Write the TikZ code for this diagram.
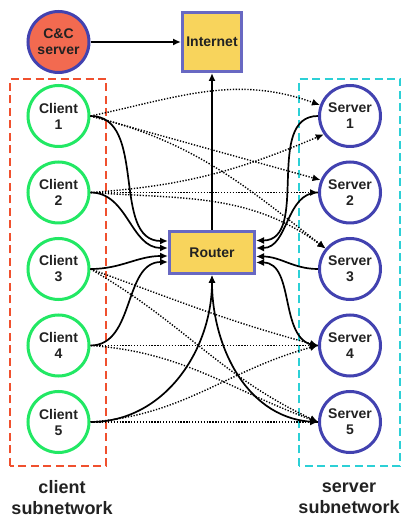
\documentclass[tikz,border=0pt]{standalone}
\usepackage{fontspec}
\setmainfont{Liberation Sans}
\usepackage{xcolor}
\usetikzlibrary{positioning,arrows.meta}

\definecolor{nodeblue}{RGB}{66,66,176}
\definecolor{boxblue}{RGB}{104,104,194}
\definecolor{clientgreen}{RGB}{34,232,100}
\definecolor{ccred}{RGB}{242,106,80}
\definecolor{boxyellow}{RGB}{248,212,92}
\definecolor{netred}{RGB}{240,80,46}
\definecolor{netcyan}{RGB}{44,208,214}
\definecolor{labelgray}{RGB}{34,34,34}

\begin{document}
\begin{tikzpicture}[
				x=1pt, y=1pt,
				font=\fontsize{14}{16}\selectfont\bfseries,
				text=labelgray,
				host/.style={
					circle,
					draw=nodeblue,
					fill=white,
					line width=3pt,
					minimum size=61pt,
					inner sep=0pt,
					align=center
				},
				client/.style={host, draw=clientgreen},
				hub/.style={
					rectangle,
					draw=boxblue,
					fill=boxyellow,
					line width=3pt,
					inner sep=0pt,
					align=center
				},
				subnet/.style={line width=2.5pt, dash pattern=on 8pt off 4.5pt},
				link/.style={-{Latex[length=8pt,width=7pt]}, line width=1.7pt},
				flow/.style={-{Latex[length=8pt,width=7pt]}, line width=1.4pt, dash pattern=on 1.3pt off 1.6pt}
				]
				\useasboundingbox (0,0) rectangle (402,520);
				
				\draw[subnet, draw=netred] (10,54) rectangle (106,441);
				\draw[subnet, draw=netcyan] (299,54) rectangle (400,441);
				
				\node[host, fill=ccred] (cc) at (58.5,478) {C\&C\\server};
				\node[hub, minimum width=59pt, minimum height=59pt] (internet) at (212,478) {Internet};
				\node[hub, minimum width=85pt, minimum height=42pt] (router) at (212,267.5) {Router};
				
				\node[client] (c1) at (58.5,404) {Client\\1};
				\node[client, below=12.5pt of c1] (c2) {Client\\2};
				\node[client, below=12.5pt of c2] (c3) {Client\\3};
				\node[client, below=12.5pt of c3] (c4) {Client\\4};
				\node[client, below=12.5pt of c4] (c5) {Client\\5};
				
				\node[host] (s1) at (350,404) {Server\\1};
				\node[host, below=12.5pt of s1] (s2) {Server\\2};
				\node[host, below=12.5pt of s2] (s3) {Server\\3};
				\node[host, below=12.5pt of s3] (s4) {Server\\4};
				\node[host, below=12.5pt of s4] (s5) {Server\\5};
				
				\node[font=\fontsize{18}{21}\selectfont\bfseries, align=center] (clientnet) at (62,22) {client\\subnetwork};
				\node[font=\fontsize{18}{21}\selectfont\bfseries, align=center] (servernet) at (349,22) {server\\subnetwork};
				
				\draw[flow] (c1.east) to[out=12, in=160] (s1.160);
				\draw[flow] (c1.east) -- (s2.157);
				\draw[flow] (c1.east) to[out=-14, in=142] (s3.140);
				\draw[flow] (c2.east) to[out=4, in=-157] (s1.215);
				\draw[flow] (c2.east) -- (s2.west);
				\draw[flow] (c2.east) to[out=-4, in=144] (s3.140);
				\draw[flow] (c3.east) to[out=-20, in=165] (s4.west);
				\draw[flow] (c3.east) to[out=-30, in=155] (s5.west);
				\draw[flow] (c4.east) -- (s4.west);
				\draw[flow] (c4.east) to[out=-4, in=160] (s5.west);
				\draw[flow] (c5.east) to[out=4, in=-165] (s4.west);
				\draw[flow] (c5.east) -- (s5.west);
				
				\draw[link] (c1.east) to[out=0, in=180] ([yshift=11.5pt]router.west);
				\draw[link] (c2.east) to[out=0, in=180] ([yshift=4.5pt]router.west);
				\draw[link] (c3.east) to[out=0, in=180] ([yshift=-3.5pt]router.west);
				\draw[link] (c4.east) to[out=0, in=180] ([yshift=-9.5pt]router.west);
				\draw[link] (c5.east) to[out=0, in=-90] (router.south);
				\draw[link] (s1.west) to[out=180, in=0] ([yshift=12pt]router.east);
				\draw[link] (s2.west) to[out=180, in=0] ([yshift=4.5pt]router.east);
				\draw[link] (s3.west) to[out=180, in=0] ([yshift=-4pt]router.east);
				\draw[link] (s4.west) to[out=180, in=0] ([yshift=-10pt]router.east);
				\draw[link] (s5.west) to[out=180, in=-90] (router.south);
				\draw[link] (router) -- (internet);
				\draw[link] (cc) -- (internet);
			\end{tikzpicture}
\end{document}
